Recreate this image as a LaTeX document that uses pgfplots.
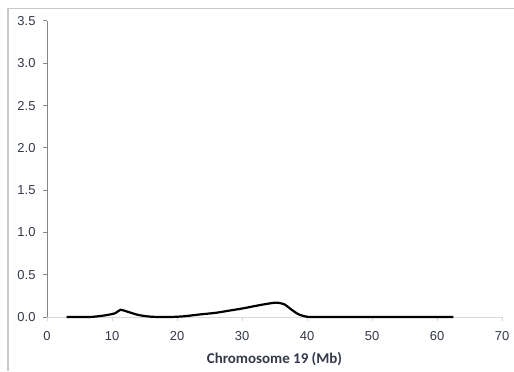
\documentclass[border=0pt]{standalone}
\usepackage{pgfplots}
\pgfplotsset{compat=1.18}
\usepackage{fontspec}
\setmainfont{Liberation Sans}
\newfontfamily\calibri{Carlito}
\definecolor{ticktext}{HTML}{33384A}
\definecolor{leftax}{HTML}{868686}
\definecolor{botax}{HTML}{D9D9D9}
\definecolor{frame}{HTML}{C8C8C8}
\begin{document}
\begin{tikzpicture}[x=1bp,y=1bp]
\useasboundingbox (0,0) rectangle (514,371);
\fill[white] (0,0) rectangle (514,371);
\draw[frame, line width=1.5bp] (8,0) -- (8,362.5) -- (514,362.5);
\begin{axis}[
  at={(47bp,54bp)}, anchor=south west,
  scale only axis, width=455bp, height=296bp,
  xmin=0, xmax=70, ymin=0, ymax=3.5,
  xtick={0,10,...,70}, ytick={0,0.5,...,3.5},
  axis x line*=bottom, axis y line*=left,
  x axis line style={botax, line width=1bp, -},
  y axis line style={leftax, line width=1bp, -},
  xtick style={botax, line width=1bp},
  ytick style={leftax, line width=1bp},
  tick align=outside, major tick length=4bp,
  yticklabel style={/pgf/number format/.cd, fixed, fixed zerofill, precision=1, /tikz/.cd, font=\fontsize{13}{15}\selectfont, text=ticktext, xshift=-4bp},
  xticklabel style={font=\fontsize{13}{15}\selectfont, text=ticktext, yshift=-7bp},
  /pgf/number format/assume math mode=true,
  xlabel={\calibri\bfseries Chromosome 19 (Mb)},
  xlabel style={font=\fontsize{15}{17}\selectfont, text=ticktext, yshift=-5bp},
  clip=false,
]
\addplot[black, line width=2.2bp, smooth, tension=0.4] coordinates {
(3.0,0) (5,0) (7,0.002) (9,0.02) (10.5,0.045) (11.3,0.085) (12.5,0.06) (14,0.025) (15.5,0.007) (17,0) (19,0) (21,0.008) (23.5,0.03) (26,0.05) (28,0.075) (30,0.1) (32,0.13) (33.8,0.155) (35.3,0.17) (36.5,0.15) (37.4,0.10) (38.2,0.055) (38.9,0.025) (40,0.003) (41,0) (45,0) (50,0) (55,0) (62.5,0)
};
\end{axis}
\end{tikzpicture}
\end{document}
